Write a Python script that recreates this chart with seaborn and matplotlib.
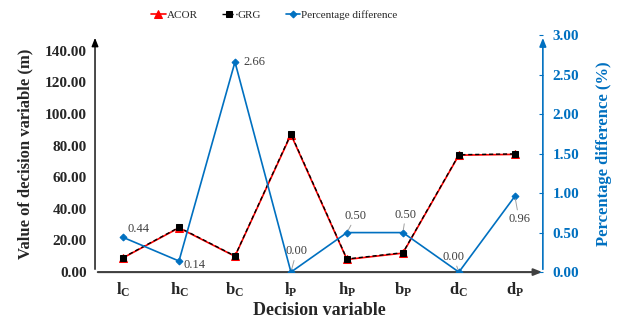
import matplotlib
matplotlib.use("Agg")
import matplotlib.pyplot as plt
import seaborn as sns
import numpy as np

categories = [r"$\mathbf{l_C}$", r"$\mathbf{h_C}$", r"$\mathbf{b_C}$", r"$\mathbf{l_P}$",
              r"$\mathbf{h_P}$", r"$\mathbf{b_P}$", r"$\mathbf{d_C}$", r"$\mathbf{d_P}$"]
acor = [9.0, 28.0, 10.0, 87.0, 8.0, 12.0, 74.0, 74.5]
grg = [9.2, 28.3, 10.2, 87.5, 8.3, 12.3, 74.3, 74.8]
pct = [0.44, 0.14, 2.66, 0.00, 0.50, 0.50, 0.00, 0.96]
pct_labels = ["0.44", "0.14", "2.66", "0.00", "0.50", "0.50", "0.00", "0.96"]
left_ticks = [0, 20, 40, 60, 80, 100, 120, 140]
right_ticks = [0.0, 0.5, 1.0, 1.5, 2.0, 2.5, 3.0]

sns.set_style("white")
plt.rcParams['font.family'] = ['Liberation Serif', 'DejaVu Serif']
plt.rcParams['mathtext.fontset'] = 'custom'
plt.rcParams['mathtext.rm'] = 'Liberation Serif'
plt.rcParams['mathtext.bf'] = 'Liberation Serif:bold'
plt.rcParams['mathtext.it'] = 'Liberation Serif:italic'

BLUE = "#0070C0"
fig = plt.figure(figsize=(6.19, 3.22), dpi=100)
ax = fig.add_axes([0.1535, 0.155, 0.7235, 0.736])
ax2 = ax.twinx()

x = np.arange(len(categories))
sns.lineplot(x=x, y=acor, ax=ax, color="red", marker="^", markersize=6,
             markeredgecolor="red", linewidth=1.2, label="ACOR", legend=False)
sns.lineplot(x=x, y=grg, ax=ax, color="black", marker="s", markersize=5,
             markeredgecolor="black", linewidth=1.0, linestyle=(0, (3, 2)), label="GRG", legend=False)
sns.lineplot(x=x, y=pct, ax=ax2, color=BLUE, marker="D", markersize=3.5,
             markeredgecolor=BLUE, linewidth=1.2, label="Percentage difference", legend=False)

ax.set_xlim(-0.5, 7.5)
ax.set_ylim(0, 150)
ax2.set_ylim(0, 3.0)

ax.set_xticks(x)
ax.set_xticklabels(categories, fontsize=12)
ax.set_yticks(left_ticks)
ax.set_yticklabels([f"{v:.2f}" for v in left_ticks], fontsize=11, fontweight="bold")
ax2.set_yticks(right_ticks)
ax2.set_yticklabels([f"{v:.2f}" for v in right_ticks], fontsize=11, fontweight="bold", color=BLUE)
ax.tick_params(axis="both", length=0, pad=6)
ax2.tick_params(axis="y", length=3, direction="in", color=BLUE, pad=7)

ax.set_xlabel("Decision variable", fontsize=13, fontweight="bold", labelpad=2)
ax.set_ylabel("Value of decision variable (m)", fontsize=12, fontweight="bold", labelpad=8)
ax2.set_ylabel("Percentage difference (%)", fontsize=12, fontweight="bold", color=BLUE, labelpad=12, rotation=90)

for a in (ax, ax2):
    for s in a.spines.values():
        s.set_visible(False)

# axis arrows
ax.annotate("", xy=(0, 1.0), xytext=(0, 0), xycoords="axes fraction",
            arrowprops=dict(arrowstyle="-|>,head_length=0.5,head_width=0.2", color="black", lw=1.0))
ax.annotate("", xy=(1.005, 0), xytext=(0, 0), xycoords="axes fraction",
            arrowprops=dict(arrowstyle="-|>,head_length=0.5,head_width=0.2", color="#404040", lw=1.5))
ax2.annotate("", xy=(1, 1.0), xytext=(1, 0), xycoords="axes fraction",
             arrowprops=dict(arrowstyle="-|>,head_length=0.5,head_width=0.2", color=BLUE, lw=1.2))

offsets = [(11, 6), (3, -3), (6, 0), (4, 15), (6.5, 12), (2, 13), (-4, 11), (3, -16.5)]
aligns = ["center", "left", "left", "center", "center", "center", "center", "center"]
leaders = [False, False, False, True, True, True, True, True]
for i, (v, lab) in enumerate(zip(pct, pct_labels)):
    dx, dy = offsets[i]
    ax2.annotate(lab, xy=(i, v), xytext=(dx, dy), textcoords="offset points",
                 fontsize=9, color="#404040", ha=aligns[i], va="center",
                 arrowprops=dict(arrowstyle="-", color="#A0A0A0", lw=0.7, shrinkA=0, shrinkB=2)
                 if leaders[i] else None)

handles = ax.get_lines()[:2] + ax2.get_lines()[:1]
fig.legend(handles, ["ACOR", "GRG", "Percentage difference"], loc="upper center",
           bbox_to_anchor=(0.443, 1.0), ncol=3, frameon=False, fontsize=8,
           handlelength=1.3, handletextpad=0.1, columnspacing=2.2)

fig.savefig("out.png", dpi=100)
